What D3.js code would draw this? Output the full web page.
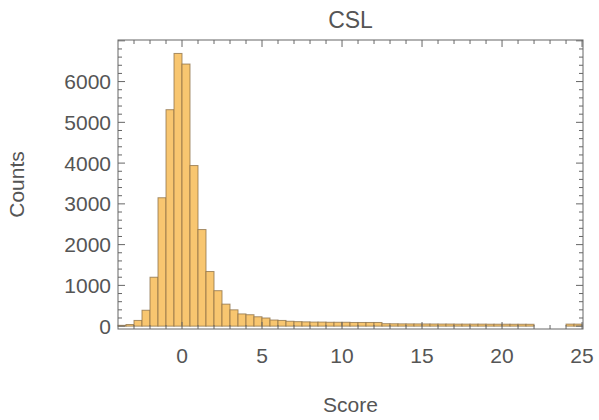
<!DOCTYPE html>
<html><head><meta charset="utf-8">
<script src="https://cdn.jsdelivr.net/npm/d3@7"></script>
<style>html,body{margin:0;padding:0;background:#fff;}svg{display:block;}</style>
</head><body>
<svg id="chart" width="599" height="420"></svg>
<script>
const title = "CSL";
const xLabel = "Score";
const yLabel = "Counts";
const binStart = -4;
const binWidth = 0.5;
const counts = [
  20, 40, 140, 390, 1200, 3150, 5310, 6690, 6430, 3940,
  2370, 1340, 870, 540, 400, 300, 280, 230, 200, 150,
  140, 120, 110, 105, 100, 100, 95, 95, 95, 90,
  90, 90, 90,
  60, 58, 56, 55, 55, 54, 53, 52, 52, 50,
  50, 50, 50, 48, 48, 48, 47, 47, 46,
  0, 0, 0, 0,
  50, 50
];
const xTicks = [0, 5, 10, 15, 20, 25];
const yTicks = [0, 1000, 2000, 3000, 4000, 5000, 6000];

const svg = d3.select("#chart");
const L = 118, R = 583, T = 40, B = 329;
const x = d3.scaleLinear().domain([-4, 25.06]).range([L, R]);
const y = d3.scaleLinear().domain([-70, 7020]).range([B, T]);

const bins = counts.map((c, i) => ({x0: binStart + i * binWidth, x1: binStart + (i + 1) * binWidth, c}));

svg.append("g").selectAll("rect").data(bins.filter(d => d.c > 0)).join("rect")
  .attr("x", d => x(d.x0))
  .attr("width", d => x(d.x1) - x(d.x0))
  .attr("y", d => y(d.c))
  .attr("height", d => y(0) - y(d.c))
  .attr("fill", "#f8c670")
  .attr("stroke", "#8a6d45")
  .attr("stroke-opacity", 0.75)
  .attr("stroke-width", 1);

const tickCol = "#666";
const frame = svg.append("g");
frame.append("rect").attr("x", L).attr("y", T).attr("width", R - L).attr("height", B - T)
  .attr("fill", "none").attr("stroke", tickCol).attr("stroke-width", 1);

const xMinor = d3.range(-3, 26, 1).filter(v => x(v) <= R);
const yMinor = d3.range(0, 7001, 200);
const maj = 7, mnr = 4;
const tg = frame.append("g").attr("stroke", tickCol).attr("stroke-width", 1);
xMinor.forEach(v => {
  const len = v % 5 === 0 ? maj : mnr;
  const px = x(v);
  tg.append("line").attr("x1", px).attr("x2", px).attr("y1", B).attr("y2", B - len);
  tg.append("line").attr("x1", px).attr("x2", px).attr("y1", T).attr("y2", T + len);
});
yMinor.forEach(v => {
  const len = v % 1000 === 0 ? maj : mnr;
  const py = y(v);
  tg.append("line").attr("x1", L).attr("x2", L + len).attr("y1", py).attr("y2", py);
  tg.append("line").attr("x1", R).attr("x2", R - len).attr("y1", py).attr("y2", py);
});

const font = "Liberation Sans, Arial, Helvetica, sans-serif";
const labCol = "#555";
svg.append("g").selectAll("text").data(xTicks).join("text")
  .attr("x", d => x(d)).attr("y", 363)
  .attr("text-anchor", "middle").attr("font-family", font).attr("font-size", 21)
  .attr("fill", labCol).text(d => d);
svg.append("g").selectAll("text").data(yTicks).join("text")
  .attr("x", 111).attr("y", d => y(d) + 7.5)
  .attr("text-anchor", "end").attr("font-family", font).attr("font-size", 21)
  .attr("fill", labCol).text(d => d);

svg.append("text").attr("x", (L + R) / 2).attr("y", 28).attr("text-anchor", "middle")
  .attr("font-family", font).attr("font-size", 23).attr("fill", labCol).text(title);
svg.append("text").attr("x", (L + R) / 2).attr("y", 412).attr("text-anchor", "middle")
  .attr("font-family", font).attr("font-size", 21).attr("fill", labCol).text(xLabel);
svg.append("text").attr("transform", `translate(24,${(T + B) / 2}) rotate(-90)`)
  .attr("text-anchor", "middle").attr("font-family", font).attr("font-size", 21)
  .attr("fill", labCol).text(yLabel);
</script>
</body></html>
